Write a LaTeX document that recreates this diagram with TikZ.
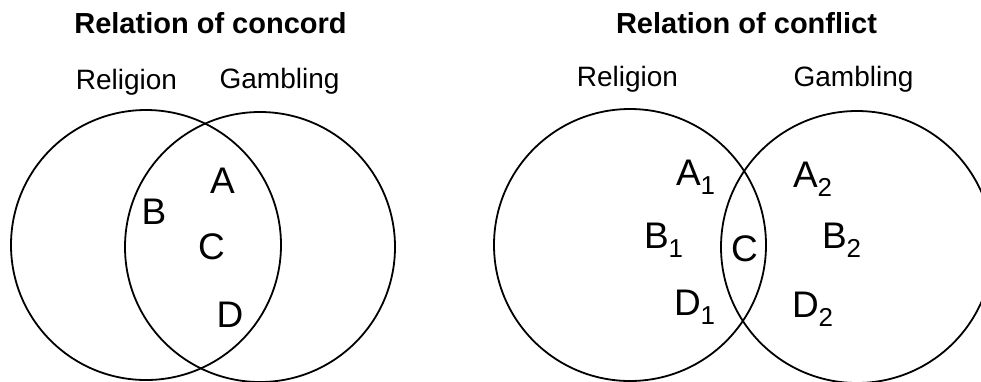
\documentclass[tikz,border=0pt]{standalone}
\usepackage{fontspec}
\setmainfont{Liberation Sans}
\begin{document}
\begin{tikzpicture}[
  x=1pt, y=-1pt,
  every node/.style={inner sep=0pt, outer sep=0pt},
  ring/.style={draw, line width=1.8pt},
  title/.style={anchor=base, font=\fontsize{29}{29}\selectfont\bfseries},
  set/.style={anchor=base, font=\fontsize{28}{28}\selectfont},
  part/.style={anchor=base, font=\fontsize{37}{37}\selectfont},
  partw/.style={anchor=base west, font=\fontsize{37}{37}\selectfont}]

  \useasboundingbox (0,0) rectangle (981,381);

  % concord
  \coordinate (RelC) at (146,245);
  \coordinate (GamC) at (260,247);
  \draw[ring] (RelC) circle (135);
  \draw[ring] (GamC) circle (135);

  \node[title] (tconc) at (210.5,33) {Relation of concord};
  \node[set] (relc) at (126.5,89) {Religion};
  \node[set] (gamc) at (279.5,88) {Gambling};

  \node[part] (Ac) at (222.5,193) {A};
  \node[part] (Bc) at (154,224) {B};
  \node[part] (Cc) at (211.5,259) {C};
  \node[part] (Dc) at (230,327) {D};

  % conflict
  \coordinate (RelF) at (630,245);
  \coordinate (GamF) at (857,247);
  \draw[ring] (RelF) circle (136);
  \draw[ring] (GamF) circle (136);

  \node[title] (tconf) at (746.5,33) {Relation of conflict};
  \node[set] (relf) at (627.5,86) {Religion};
  \node[set] (gamf) at (853.5,86) {Gambling};

  \node[partw] (A1) at (676,185) {A\textsubscript{1}};
  \node[partw] (B1) at (644,248) {B\textsubscript{1}};
  \node[partw] (D1) at (674,315) {D\textsubscript{1}};
  \node[part]  (Cf) at (744.5,261) {C};
  \node[partw] (A2) at (793,187) {A\textsubscript{2}};
  \node[partw] (B2) at (822,248) {B\textsubscript{2}};
  \node[partw] (D2) at (792,317) {D\textsubscript{2}};

\end{tikzpicture}
\end{document}
